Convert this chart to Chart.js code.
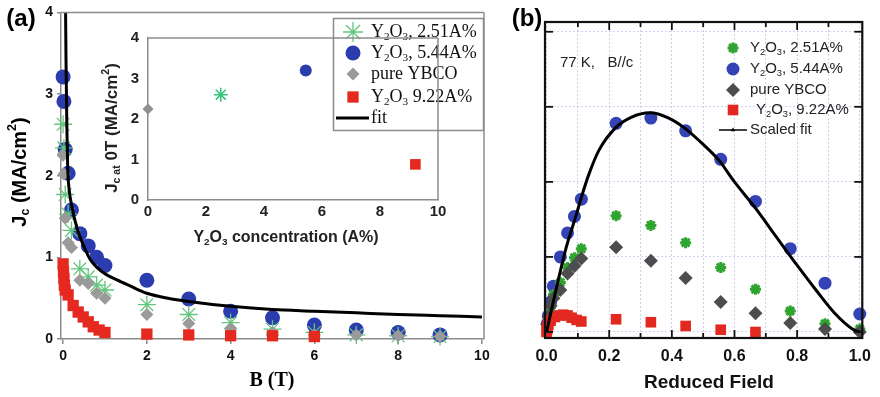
<!DOCTYPE html>
<html><head><meta charset="utf-8">
<script src="https://cdn.jsdelivr.net/npm/chart.js@4.4.0/dist/chart.umd.min.js"></script>
<style>
html,body{margin:0;padding:0;background:#fff;}
#wrap{position:relative;width:880px;height:397px;overflow:hidden;background:#fff;}
canvas{position:absolute;}
</style></head><body>
<div id="wrap">
<canvas id="cA" width="505" height="397" style="left:0;top:0"></canvas>
<canvas id="cInset" width="365" height="240" style="left:95px;top:20px"></canvas>
<canvas id="cB" width="375" height="397" style="left:505px;top:0"></canvas>
</div>
<script>
// ================= DATA =================
// Panel (a): Jc (MA/cm2) vs B (T)
const bBlue  = [0, 0.02, 0.05, 0.12, 0.2, 0.4, 0.6, 0.8, 1.0, 2, 3, 4, 5, 6, 7, 8, 9];
const jcBlue = [3.21, 2.91, 2.32, 2.03, 1.58, 1.29, 1.14, 1.0, 0.9, 0.72, 0.49, 0.34, 0.26, 0.17, 0.11, 0.08, 0.05];
const bGreen  = [0, 0.02, 0.05, 0.12, 0.2, 0.4, 0.6, 0.8, 1.0, 2, 3, 4, 5, 6, 7, 8, 9];
const jcGreen = [2.63, 2.34, 1.77, 1.53, 1.33, 0.86, 0.76, 0.66, 0.6, 0.42, 0.3, 0.2, 0.12, 0.08, 0.05, 0.04, 0.03];
const bGray  = [0, 0.02, 0.05, 0.12, 0.2, 0.4, 0.6, 0.8, 1.0, 2, 3, 4, 5, 6, 7, 8, 9];
const jcGray = [2.25, 2.02, 1.48, 1.18, 1.12, 0.72, 0.68, 0.56, 0.5, 0.3, 0.19, 0.13, 0.08, 0.05, 0.05, 0.04, 0.03];
const bRed  = [0, 0.01, 0.02, 0.03, 0.05, 0.12, 0.24, 0.36, 0.48, 0.6, 0.72, 0.86, 1.0, 2, 3, 4, 5, 6];
const jcRed = [0.92, 0.82, 0.74, 0.66, 0.6, 0.54, 0.41, 0.33, 0.27, 0.21, 0.15, 0.11, 0.08, 0.06, 0.05, 0.04, 0.04, 0.03];
const bFit  = [0.058, 0.07, 0.09, 0.11, 0.14, 0.2, 0.33, 0.5, 0.64, 0.8, 1.0, 1.3, 1.6, 2, 2.5, 3, 4, 5, 6, 7, 8, 9, 10];
const jcFit = [4.1, 3.4, 2.6, 2.1, 1.85, 1.65, 1.36, 1.13, 0.98, 0.88, 0.8, 0.72, 0.65, 0.56, 0.5, 0.46, 0.4, 0.36, 0.34, 0.32, 0.3, 0.285, 0.27];
const xTicksA = [0, 2, 4, 6, 8, 10];
const yTicksA = [0, 1, 2, 3, 4];

// Inset: Jc at 0 T vs Y2O3 concentration (A%)
const concInset = [0, 2.51, 5.44, 9.22];     // pure, 2.51, 5.44, 9.22
const jc0Inset  = [2.25, 2.6, 3.2, 0.88];
const xTicksInset = [0, 2, 4, 6, 8, 10];
const yTicksInset = [0, 1, 2, 3, 4];

// Panel (b): pinning force (a.u.) vs reduced field
const rfBlue = [0.002, 0.006, 0.013, 0.022, 0.044, 0.067, 0.089, 0.111, 0.222, 0.333, 0.444, 0.556, 0.667, 0.778, 0.889, 1.0];
const fpBlue = [0.11, 0.22, 0.4, 0.61, 1.0, 1.32, 1.54, 1.77, 2.78, 2.85, 2.68, 2.30, 1.74, 1.11, 0.65, 0.24];
const rfGreen = [0.002, 0.006, 0.013, 0.022, 0.044, 0.067, 0.089, 0.111, 0.222, 0.333, 0.444, 0.556, 0.667, 0.778, 0.889, 1.0];
const fpGreen = [0.09, 0.17, 0.33, 0.5, 0.66, 0.86, 0.99, 1.11, 1.55, 1.42, 1.19, 0.86, 0.57, 0.28, 0.11, 0.04];
const rfGray = [0.002, 0.006, 0.013, 0.022, 0.044, 0.067, 0.089, 0.111, 0.222, 0.333, 0.444, 0.556, 0.667, 0.778, 0.889, 1.0];
const fpGray = [0.1, 0.2, 0.35, 0.45, 0.56, 0.78, 0.88, 0.98, 1.13, 0.95, 0.72, 0.40, 0.25, 0.12, 0.04, 0.0];
const rfRed = [0, 0.001, 0.002, 0.003, 0.006, 0.013, 0.027, 0.04, 0.053, 0.067, 0.08, 0.096, 0.111, 0.222, 0.333, 0.444, 0.556, 0.667];
const fpRed = [0.0, 0.02, 0.04, 0.07, 0.1, 0.15, 0.2, 0.22, 0.23, 0.22, 0.19, 0.16, 0.14, 0.17, 0.13, 0.08, 0.03, 0.0];
const rfFit = [0, 0.03, 0.063, 0.094, 0.113, 0.135, 0.167, 0.22, 0.27, 0.33, 0.39, 0.44, 0.5, 0.55, 0.6, 0.667, 0.733, 0.805, 0.86, 0.92, 0.98, 1.0];
const fpFit = [0, 0.56, 1.13, 1.55, 1.82, 2.1, 2.42, 2.72, 2.86, 2.92, 2.85, 2.72, 2.5, 2.29, 2.0, 1.65, 1.27, 0.86, 0.56, 0.25, 0.03, 0];
const xGridB = [0, 0.1, 0.2, 0.3, 0.4, 0.5, 0.6, 0.7, 0.8, 0.9, 1.0];
const xTickLabelsB = ['0.0', '', '0.2', '', '0.4', '', '0.6', '', '0.8', '', '1.0'];
const xMajorB = [0.2, 0.4, 0.6, 0.8];
const xMinorB = [0.1, 0.3, 0.5, 0.7, 0.9];
const yTicksB = [0, 1, 2, 3, 4];

// ================= HELPERS =================
const SANS = '"Liberation Sans", Arial, sans-serif';
const SERIF = '"Liberation Serif", "Times New Roman", serif';

function pts(xs, ys) { return xs.map((x, i) => ({x: x, y: ys[i]})); }
function markerSet(label, xs, ys, st) {
  return {
    label: label, data: pts(xs, ys), showLine: false, clip: false, order: st.order,
    pointStyle: st.style, pointRadius: st.r, pointHoverRadius: st.r,
    pointBackgroundColor: st.fill, pointBorderColor: st.stroke, pointBorderWidth: st.bw,
    backgroundColor: st.fill, borderColor: st.stroke, borderWidth: st.bw
  };
}
function lineSet(label, xs, ys, st) {
  return {
    label: label, data: pts(xs, ys), showLine: true, order: 0,
    borderColor: st.color, borderWidth: st.w, pointRadius: 0, pointHoverRadius: 0,
    backgroundColor: st.color, cubicInterpolationMode: 'monotone', fill: false
  };
}
function rich(ctx, o) {
  ctx.save();
  ctx.translate(o.x, o.y);
  if (o.rot) ctx.rotate(o.rot);
  ctx.fillStyle = o.color || '#000';
  ctx.textBaseline = 'middle';
  ctx.textAlign = 'left';
  const parts = typeof o.text === 'string' ? [{t: o.text}] : o.text;
  const f = p => (o.weight || 'normal') + ' ' + (o.size * (p.s || 1)).toFixed(1) + 'px ' + (o.family || SANS);
  let total = 0;
  const ws = parts.map(p => { ctx.font = f(p); const w = ctx.measureText(p.t).width; total += w; return w; });
  let cx = o.align === 'left' ? 0 : (o.align === 'right' ? -total : -total / 2);
  parts.forEach((p, i) => { ctx.font = f(p); ctx.fillText(p.t, cx, (p.dy || 0) * o.size); cx += ws[i]; });
  ctx.restore();
}
const sub = t => ({t: t, s: 0.62, dy: 0.28});
const sup = t => ({t: t, s: 0.62, dy: -0.35});
const y2o3 = rest => [{t: 'Y'}, sub('2'), {t: 'O'}, sub('3'), {t: rest}];

function drawMarker(ctx, ds, x, y) {
  ctx.save();
  ctx.fillStyle = ds.pointBackgroundColor;
  ctx.strokeStyle = ds.pointBorderColor;
  ctx.lineWidth = ds.pointBorderWidth;
  Chart.helpers.drawPoint(ctx, {pointStyle: ds.pointStyle, radius: ds.pointRadius, borderWidth: ds.pointBorderWidth, rotation: 0}, x, y);
  ctx.restore();
}
const base = () => ({
  responsive: false, animation: false, events: [],
  plugins: {legend: {display: false}, tooltip: {enabled: false}}
});
const seg = (ctx, x1, y1, x2, y2) => { ctx.beginPath(); ctx.moveTo(x1, y1); ctx.lineTo(x2, y2); ctx.stroke(); };

// ================= PANEL (a) =================
const dsA = [
  markerSet('Y₂O₃, 5.44A%', bBlue, jcBlue, {style: 'circle', r: 7.5, fill: '#2b3cae', stroke: '#2b3cae', bw: 0, order: 5}),
  markerSet('Y₂O₃, 2.51A%', bGreen, jcGreen, {style: 'star', r: 9, fill: 'rgba(0,0,0,0)', stroke: '#62c67c', bw: 1.3, order: 4}),
  markerSet('pure YBCO', bGray, jcGray, {style: 'rectRot', r: 6.5, fill: '#9a9a9a', stroke: '#9a9a9a', bw: 0, order: 3}),
  markerSet('Y₂O₃ 9.22A%', bRed, jcRed, {style: 'rect', r: 8, fill: '#e5291e', stroke: '#e5291e', bw: 0, order: 2}),
  lineSet('fit', bFit, jcFit, {color: '#000', w: 3})
];
const plugA = {
  id: 'plugA',
  afterDraw(chart) {
    const {ctx, chartArea: a} = chart;
    ctx.save();
    ctx.strokeStyle = '#8c8c8c'; ctx.lineWidth = 1.5;
    seg(ctx, a.left, a.top, a.right, a.top);
    seg(ctx, a.right, a.top, a.right, a.bottom);
    ctx.restore();
    rich(ctx, {x: 21, y: 19, text: '(a)', size: 24, weight: 'bold', family: SANS});
    rich(ctx, {x: 20, y: 172, rot: -Math.PI / 2, size: 20, weight: 'bold', family: SANS,
      text: [{t: 'J'}, sub('c'), {t: ' (MA/cm'}, sup('2'), {t: ')'}]});
    rich(ctx, {x: 272, y: 381, text: 'B (T)', size: 20, weight: 'bold', family: SERIF});
    // legend
    ctx.save();
    ctx.fillStyle = '#fff'; ctx.strokeStyle = '#8c8c8c'; ctx.lineWidth = 1.5;
    ctx.fillRect(333.5, 18.5, 150, 112); ctx.strokeRect(333.5, 18.5, 150, 112);
    ctx.restore();
    const ds = chart.data.datasets;
    const rows = [32, 53, 74, 97, 118];
    const items = [
      {d: 1, text: y2o3(', 2.51A%')}, {d: 0, text: y2o3(', 5.44A%')}, {d: 2, text: 'pure YBCO'},
      {d: 3, text: y2o3(' 9.22A%')}, {d: 4, text: 'fit', line: true}
    ];
    items.forEach((it, i) => {
      if (it.line) {
        ctx.save(); ctx.strokeStyle = ds[it.d].borderColor; ctx.lineWidth = 3;
        seg(ctx, 336, rows[i], 369, rows[i]); ctx.restore();
      } else {
        const d = Object.assign({}, ds[it.d]);
        if (it.d === 1) d.pointRadius = 10;
        drawMarker(ctx, d, 353, rows[i]);
      }
      rich(ctx, {x: 371, y: rows[i], text: it.text, size: 18, family: SERIF, align: 'left', color: '#111'});
    });
  }
};
new Chart(document.getElementById('cA'), {
  type: 'scatter',
  data: {datasets: dsA},
  options: Object.assign(base(), {
    layout: {padding: {left: 0, right: 21, top: 10, bottom: 0}},
    scales: {
      x: {type: 'linear', min: -0.05, max: 10.05,
        afterBuildTicks: s => { s.ticks = xTicksA.map(v => ({value: v})); },
        afterFit: s => { s.height = 58; },
        ticks: {font: {family: SANS, size: 14, weight: 'bold'}, color: '#111', padding: 4, maxRotation: 0, autoSkip: false},
        grid: {drawOnChartArea: false, drawTicks: true, tickLength: 5, color: '#8c8c8c', lineWidth: 1.5},
        border: {display: true, color: '#8c8c8c', width: 1.5}},
      y: {type: 'linear', min: 0, max: 4,
        afterBuildTicks: s => { s.ticks = yTicksA.map(v => ({value: v})); },
        afterFit: s => { s.width = 61; },
        ticks: {font: {family: SANS, size: 14, weight: 'bold'}, color: '#111', padding: 4},
        grid: {drawOnChartArea: false, drawTicks: true, tickLength: 4, color: '#8c8c8c', lineWidth: 1.5},
        border: {display: true, color: '#8c8c8c', width: 1.5}}
    }
  }),
  plugins: [plugA]
});

// ================= INSET =================
const dsI = [
  markerSet('pure YBCO', [concInset[0]], [jc0Inset[0]], {style: 'rectRot', r: 5.5, fill: '#8f8f8f', stroke: '#8f8f8f', bw: 0, order: 1}),
  markerSet('Y₂O₃, 2.51A%', [concInset[1]], [jc0Inset[1]], {style: 'star', r: 7, fill: 'rgba(0,0,0,0)', stroke: '#38c57f', bw: 1.6, order: 1}),
  markerSet('Y₂O₃, 5.44A%', [concInset[2]], [jc0Inset[2]], {style: 'circle', r: 6, fill: '#2b3cae', stroke: '#2b3cae', bw: 0, order: 1}),
  markerSet('Y₂O₃, 9.22A%', [concInset[3]], [jc0Inset[3]], {style: 'rect', r: 7.5, fill: '#e5291e', stroke: '#e5291e', bw: 0, order: 1})
];
const plugI = {
  id: 'plugI',
  afterDraw(chart) {
    const {ctx, chartArea: a} = chart;
    ctx.save();
    ctx.strokeStyle = '#8c8c8c'; ctx.lineWidth = 1.5;
    seg(ctx, a.left, a.top, a.right, a.top);
    seg(ctx, a.right, a.top, a.right, a.bottom);
    ctx.restore();
    rich(ctx, {x: 191, y: 218, size: 16, weight: 'bold', family: SANS, color: '#222',
      text: y2o3(' concentration (A%)')});
    rich(ctx, {x: 17, y: 108, rot: -Math.PI / 2, size: 17, weight: 'bold', family: SANS, color: '#222',
      text: [{t: 'J'}, sub('c at'), {t: ' 0T (MA/cm'}, sup('2'), {t: ')'}]});
  }
};
new Chart(document.getElementById('cInset'), {
  type: 'scatter',
  data: {datasets: dsI},
  options: Object.assign(base(), {
    layout: {padding: {left: 0, right: 22, top: 12, bottom: 0}},
    scales: {
      x: {type: 'linear', min: 0, max: 10,
        afterBuildTicks: s => { s.ticks = xTicksInset.map(v => ({value: v})); },
        afterFit: s => { s.height = 60; },
        ticks: {font: {family: SANS, size: 15, weight: 'bold'}, color: '#222', padding: 3, maxRotation: 0, autoSkip: false},
        grid: {drawOnChartArea: false, drawTicks: false},
        border: {display: true, color: '#8c8c8c', width: 1.5}},
      y: {type: 'linear', min: 0, max: 4,
        afterBuildTicks: s => { s.ticks = yTicksInset.map(v => ({value: v})); },
        afterFit: s => { s.width = 53; },
        ticks: {font: {family: SANS, size: 15, weight: 'bold'}, color: '#222', padding: 9},
        grid: {drawOnChartArea: false, drawTicks: false},
        border: {display: true, color: '#8c8c8c', width: 1.5}}
    }
  }),
  plugins: [plugI]
});

// ================= PANEL (b) =================
const dsB = [
  markerSet('Y₂O₃, 5.44A%', rfBlue, fpBlue, {style: 'circle', r: 6.5, fill: '#3343b5', stroke: '#3343b5', bw: 0, order: 5}),
  markerSet('Y₂O₃, 2.51A%', rfGreen, fpGreen, {style: 'star', r: 5.5, fill: '#2fa52f', stroke: '#2fa52f', bw: 3, order: 4}),
  markerSet('pure YBCO', rfGray, fpGray, {style: 'rectRot', r: 7, fill: '#4d4d4d', stroke: '#4d4d4d', bw: 0, order: 3}),
  markerSet('Y₂O₃, 9.22A%', rfRed, fpRed, {style: 'rect', r: 7.5, fill: '#e3281f', stroke: '#e3281f', bw: 0, order: 2}),
  lineSet('Scaled fit', rfFit, fpFit, {color: '#000', w: 3})
];
const plugB = {
  id: 'plugB',
  afterDatasetsDraw(chart) {
    const {ctx, chartArea: a, scales: {x, y}} = chart;
    ctx.save();
    ctx.strokeStyle = '#111';
    ctx.lineWidth = 1.8;
    xMajorB.forEach(v => { const p = x.getPixelForValue(v); seg(ctx, p, a.bottom, p, a.bottom - 8); seg(ctx, p, a.top, p, a.top + 8); });
    xMinorB.forEach(v => { const p = x.getPixelForValue(v); seg(ctx, p, a.bottom, p, a.bottom - 5); seg(ctx, p, a.top, p, a.top + 5); });
    yTicksB.forEach(v => { const p = y.getPixelForValue(v); seg(ctx, a.left, p, a.left + 8, p); seg(ctx, a.right, p, a.right - 8, p); });
    ctx.lineWidth = 2.2;
    ctx.strokeRect(a.left, a.top, a.right - a.left, a.bottom - a.top);
    ctx.restore();
  },
  afterDraw(chart) {
    const ctx = chart.ctx;
    rich(ctx, {x: 22, y: 19, text: '(b)', size: 24, weight: 'bold', family: SANS});
    rich(ctx, {x: 204, y: 383, text: 'Reduced Field', size: 19, weight: 'bold', family: SANS, color: '#111'});
    rich(ctx, {x: 55, y: 63, text: '77 K,   B//c', size: 15, family: SANS, align: 'left', color: '#222'});
    const ds = chart.data.datasets;
    const rows = [48, 69, 90, 110, 130];
    const items = [
      {d: 1, text: y2o3(', 2.51A%')}, {d: 0, text: y2o3(', 5.44A%')}, {d: 2, text: 'pure YBCO'},
      {d: 3, text: y2o3(', 9.22A%'), dx: 6}, {d: 4, text: 'Scaled fit', line: true}
    ];
    items.forEach((it, i) => {
      if (it.line) {
        ctx.save(); ctx.strokeStyle = '#000'; ctx.fillStyle = '#000'; ctx.lineWidth = 1.5;
        seg(ctx, 214, rows[i], 242, rows[i]);
        Chart.helpers.drawPoint(ctx, {pointStyle: 'triangle', radius: 2.5, borderWidth: 0, rotation: 0}, 228, rows[i]);
        ctx.restore();
      } else {
        drawMarker(ctx, ds[it.d], 228, rows[i]);
      }
      rich(ctx, {x: 245 + (it.dx || 0), y: rows[i], text: it.text, size: 15, family: SANS, align: 'left', color: '#222'});
    });
  }
};
const gridColB = 'rgba(150,150,220,0.45)';
new Chart(document.getElementById('cB'), {
  type: 'scatter',
  data: {datasets: dsB},
  options: Object.assign(base(), {
    layout: {padding: {left: 0, right: 13, top: 22, bottom: 0}},
    scales: {
      x: {type: 'linear', min: -0.005, max: 1.008,
        afterBuildTicks: s => { s.ticks = xGridB.map(v => ({value: v})); },
        afterFit: s => { s.height = 59; },
        ticks: {font: {family: SANS, size: 16, weight: 'bold'}, color: '#111', padding: 9, maxRotation: 0, autoSkip: false,
          callback: (v, i) => xTickLabelsB[i]},
        grid: {drawOnChartArea: true, drawTicks: false, color: gridColB, lineWidth: 1},
        border: {display: false, dash: [2, 2]}},
      y: {type: 'linear', min: -0.08, max: 4.13,
        afterBuildTicks: s => { s.ticks = yTicksB.map(v => ({value: v})); },
        afterFit: s => { s.width = 40; },
        ticks: {display: false},
        grid: {drawOnChartArea: true, drawTicks: false, color: gridColB, lineWidth: 1},
        border: {display: false, dash: [2, 2]}}
    }
  }),
  plugins: [plugB]
});
</script>
</body></html>
